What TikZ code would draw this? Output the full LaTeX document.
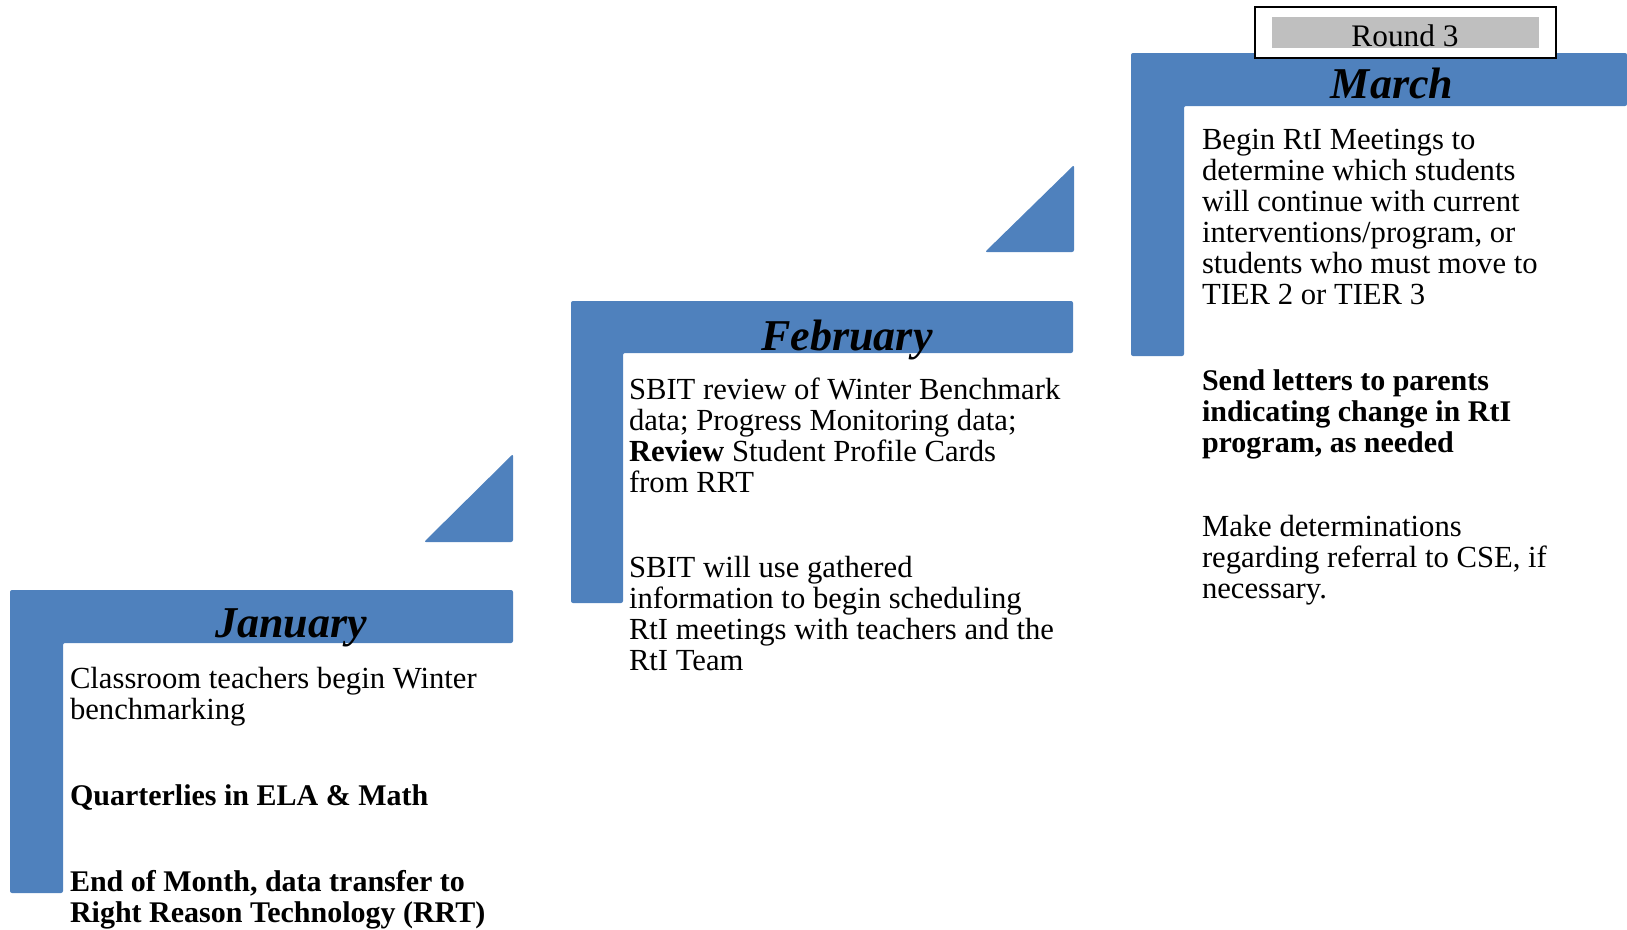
\documentclass[tikz,border=0pt]{standalone}
\usepackage{fontspec}
\setmainfont{Liberation Serif}
\usetikzlibrary{positioning}
\definecolor{barblue}{HTML}{4F81BD}
\definecolor{roundgrey}{HTML}{BFBFBF}

\begin{document}
\begin{tikzpicture}
[x=0.75pt,y=-0.75pt,
 every node/.style={inner sep=0mm,outer sep=0mm},
 monthbar/.style={fill=barblue,rounded corners=1.5pt},
 steptri/.style={fill=barblue,rounded corners=1.5pt},
 title/.style={anchor=base,font=\fontsize{33}{38}\selectfont\bfseries\itshape},
 body/.style={anchor=base west,align=left,font=\fontsize{23}{23.25}\selectfont},
 bold/.style={body,font=\fontsize{22.5}{23.25}\selectfont\bfseries}]
\useasboundingbox (0,0) rectangle (1627,929);
% month bars
\fill[monthbar] (10,590) -- (513,590) -- (513,643) -- (63,643) -- (63,893) -- (10,893) -- cycle;
\fill[monthbar] (571,301) -- (1073,301) -- (1073,353) -- (623,353) -- (623,603) -- (571,603) -- cycle;
\fill[monthbar] (1131,53) -- (1627,53) -- (1627,106) -- (1184,106) -- (1184,356) -- (1131,356) -- cycle;
% steps
\fill[steptri] (424,542) -- (513,542) -- (513,454) -- cycle;
\fill[steptri] (985,252) -- (1074,252) -- (1074,165) -- cycle;
% round box
\filldraw[fill=white,draw=black,line width=1.5pt] (1255,7) rectangle (1556,58);
\fill[roundgrey] (1272,17) rectangle (1539,48);
\node (rnd) at (1405,46) [anchor=base,font=\fontsize{23.5}{23.25}\selectfont] {Round 3};
% titles
\node[title] (jan) at (291,637)  {January};
\node[title] (feb) at (847,350)  {February};
\node[title] (mar) at (1392,98)  {March};
% january
\node[body] (jan1) at (70,719) {Classroom teachers begin Winter\\benchmarking};
\node[bold] (jan2) at (70,805) {Quarterlies in ELA \& Math};
\node[bold] (jan3) at (70,922) {End of Month, data transfer to\\Right Reason Technology (RRT)};
% february
\node[body] (feb1) at (629,492) {SBIT review of Winter Benchmark\\data; Progress Monitoring data;\\\textbf{Review} Student Profile Cards\\from RRT};
\node[body] (feb2) at (629,670) {SBIT will use gathered\\information to begin scheduling\\RtI meetings with teachers and the\\RtI Team};
% march
\node[body] (mar1) at (1202,304) {Begin RtI Meetings to\\determine which students\\will continue with current\\interventions/program, or\\students who must move to\\TIER 2 or TIER 3};
\node[bold] (mar2) at (1202,452) {Send letters to parents\\indicating change in RtI\\program, as needed};
\node[body] (mar3) at (1202,598) {Make determinations\\regarding referral to CSE, if\\necessary.};
\end{tikzpicture}
\end{document}
